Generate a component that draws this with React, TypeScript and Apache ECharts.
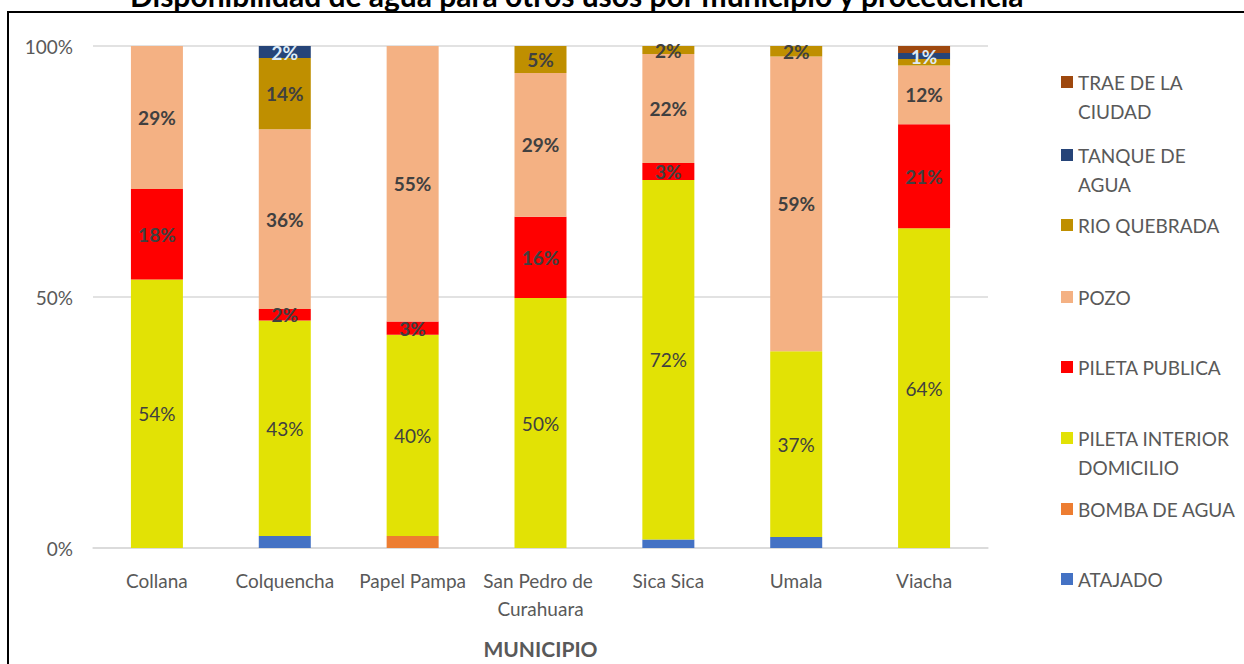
import React, { useEffect, useRef } from "react";
import * as echarts from "echarts";

const TITLE = "Disponibilidad de agua para otros usos por municipio y procedencia";
const X_NAME = "MUNICIPIO";

const categories = ["Collana", "Colquencha", "Papel Pampa", "San Pedro de Curahuara", "Sica Sica", "Umala", "Viacha"];

// values in percent of each municipio (stack bottom -> top)
const atajado = [0, 2.4, 0, 0, 1.7, 2.2, 0];
const bombaDeAgua = [0, 0, 2.4, 0, 0, 0, 0];
const piletaInterior = [53.5, 42.9, 40.1, 49.8, 71.6, 37.0, 63.7];
const piletaPublica = [18.0, 2.3, 2.6, 16.2, 3.4, 0, 20.7];
const pozo = [28.5, 35.8, 54.9, 28.6, 21.7, 58.7, 11.7];
const rioQuebrada = [0, 14.2, 0, 5.4, 1.6, 2.1, 1.3];
const tanqueDeAgua = [0, 2.4, 0, 0, 0, 0, 1.2];
const traeDeLaCiudad = [0, 0, 0, 0, 0, 0, 1.4];

const seriesNames = [
  "ATAJADO",
  "BOMBA DE AGUA",
  "PILETA INTERIOR DOMICILIO",
  "PILETA PUBLICA",
  "POZO",
  "RIO QUEBRADA",
  "TANQUE DE AGUA",
  "TRAE DE LA CIUDAD",
];
const seriesValues = [atajado, bombaDeAgua, piletaInterior, piletaPublica, pozo, rioQuebrada, tanqueDeAgua, traeDeLaCiudad];
const seriesColors = ["#4472C4", "#ED7D31", "#E2E205", "#FF0000", "#F4B183", "#BF8F00", "#264478", "#9E480E"];

// legend texts as wrapped in the reference
const legendLabels: Record<string, string[]> = {
  "TRAE DE LA CIUDAD": ["TRAE DE LA", "CIUDAD"],
  "TANQUE DE AGUA": ["TANQUE DE", "AGUA"],
  "PILETA INTERIOR DOMICILIO": ["PILETA INTERIOR", "DOMICILIO"],
};

const labelHiddenSeries = ["ATAJADO", "BOMBA DE AGUA", "TRAE DE LA CIUDAD"];
const labelHiddenPoints = [["RIO QUEBRADA", "Viacha"]];

const FONT = "Lato, 'Liberation Sans', sans-serif";

export default function App() {
  const ref = useRef<HTMLDivElement>(null);
  useEffect(() => {
    if (!ref.current) return;
    const chart = echarts.init(ref.current, null, { renderer: "svg" });

    const series = seriesNames.map((name, si) => {
      const isInterior = name === "PILETA INTERIOR DOMICILIO";
      const isTanque = name === "TANQUE DE AGUA";
      return {
        name,
        type: "bar",
        stack: "total",
        barWidth: 52,
        itemStyle: { color: seriesColors[si] },
        data: seriesValues[si],
        label: {
          show: !labelHiddenSeries.includes(name),
          position: "inside",
          fontFamily: FONT,
          fontSize: 19,
          fontWeight: isInterior ? "normal" : "bold",
          color: isTanque ? "#DDEBF7" : "#404040",
          formatter: (p: any) => {
            if (!p.value) return "";
            if (labelHiddenPoints.some(([s, c]) => s === name && c === p.name)) return "";
            return Math.round(p.value) + "%";
          },
        },
      };
    });

    const legendCenters: Record<string, number> = {
      "TRAE DE LA CIUDAD": 82,
      "TANQUE DE AGUA": 155,
      "RIO QUEBRADA": 225,
      "POZO": 297,
      "PILETA PUBLICA": 367,
      "PILETA INTERIOR DOMICILIO": 438,
      "BOMBA DE AGUA": 509,
      "ATAJADO": 579,
    };
    const LH = 29;
    const legends = seriesNames.map((name) => {
      const lines = legendLabels[name];
      return {
        data: [name],
        orient: "vertical",
        left: 1061,
        top: legendCenters[name] - (lines ? LH * 1.5 : LH / 2),
        padding: 0,
        itemWidth: 12,
        itemHeight: 12,
        itemGap: 0,
        selectedMode: false,
        icon: "rect",
        formatter: (n: string) => {
          const l = legendLabels[n];
          // an empty first line keeps the symbol level with the first text line
          return l ? "{e|}\n{t|" + l[0] + "}\n{t|" + l[1] + "}" : n;
        },
        textStyle: {
          fontFamily: FONT,
          fontSize: 19,
          color: "#595959",
          lineHeight: LH,
          rich: {
            e: { lineHeight: LH, fontSize: 19 },
            t: { lineHeight: LH, fontSize: 19, fontFamily: FONT, color: "#595959" },
          },
        },
      };
    });

    chart.setOption({
      animation: false,
      backgroundColor: "#ffffff",
      title: {
        text: TITLE,
        left: 125,
        top: -25,
        textStyle: { fontFamily: FONT, fontSize: 30, fontWeight: "bold", color: "#000000" },
      },
      grid: { left: 93, right: 256, top: 46, bottom: 116, containLabel: false, outerBoundsMode: "none" },
      legend: legends,
      xAxis: {
        type: "category",
        data: categories,
        name: X_NAME,
        nameLocation: "middle",
        nameGap: 90,
        nameTextStyle: { fontFamily: FONT, fontSize: 21, fontWeight: "bold", color: "#595959" },
        axisLine: { lineStyle: { color: "#D9D9D9", width: 1.5 } },
        axisTick: { show: false },
        axisLabel: {
          fontFamily: FONT,
          fontSize: 19,
          color: "#595959",
          margin: 18,
          width: 127,
          overflow: "break",
          lineHeight: 28,
          interval: 0,
        },
      },
      yAxis: {
        type: "value",
        min: 0,
        max: 100,
        interval: 50,
        axisLine: { show: false },
        axisTick: { show: false },
        splitLine: { lineStyle: { color: "#D9D9D9", width: 1.5 } },
        axisLabel: { fontFamily: FONT, fontSize: 19, color: "#595959", margin: 20, formatter: "{value}%" },
      },
      graphic: [
        {
          type: "rect",
          shape: { x: 8, y: 12, width: 1260, height: 700 },
          style: { fill: "none", stroke: "#000000", lineWidth: 2 },
          silent: true,
        },
      ],
      series,
    });
    return () => chart.dispose();
  }, []);
  return (
    <div
      ref={ref}
      style={{ position: "fixed", left: 0, top: 0, width: 1244, height: 664, background: "#fff" }}
    />
  );
}
